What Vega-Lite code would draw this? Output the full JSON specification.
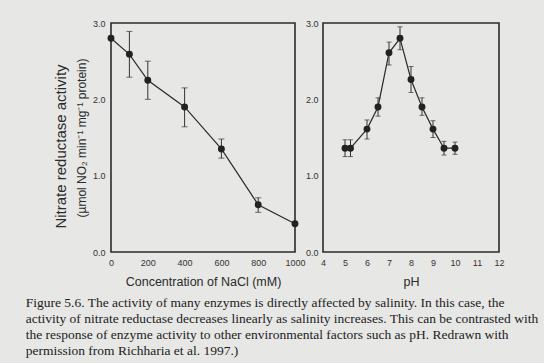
{
  "$schema": "https://vega.github.io/schema/vega-lite/v6.json",
  "background": "#e7e7e5",
  "padding": {"left": 25, "top": 18, "right": 5, "bottom": 5},
  "bounds": "flush",
  "spacing": 28,
  "config": {
    "view": {"stroke": "#2b2b2b", "strokeWidth": 1.6},
    "axis": {
      "labelFont": "Liberation Sans", "labelFontSize": 9, "labelColor": "#333333",
      "titleFont": "Liberation Sans", "titleColor": "#2b2b2b", "titleFontWeight": "normal",
      "grid": false, "domain": false, "ticks": false, "labelFlush": false, "labelPadding": 6
    },
    "title": {"font": "Liberation Sans", "fontWeight": "normal", "color": "#2b2b2b"}
  },
  "title": {
    "text": [
      "Figure 5.6. The activity of many enzymes is directly affected by salinity. In this case, the",
      "activity of nitrate reductase decreases linearly as salinity increases. This can be contrasted with",
      "the response of enzyme activity to other environmental factors such as pH. Redrawn with",
      "permission from Richharia et al. 1997.)"
    ],
    "orient": "bottom", "anchor": "start", "frame": "bounds",
    "font": "Liberation Serif", "fontSize": 13.5, "lineHeight": 16, "fontWeight": "normal",
    "color": "#222222", "offset": 8, "dx": -28
  },
  "hconcat": [
    {
      "width": 184, "height": 229,
      "title": {"text": "Nitrate reductase activity", "orient": "left", "fontSize": 15, "offset": 6, "dx": -9},
      "data": {"values": [
        {"nacl": 0, "v": 2.8, "lo": 2.8, "hi": 2.8},
        {"nacl": 100, "v": 2.59, "lo": 2.29, "hi": 2.89},
        {"nacl": 200, "v": 2.25, "lo": 2.0, "hi": 2.5},
        {"nacl": 400, "v": 1.9, "lo": 1.64, "hi": 2.15},
        {"nacl": 600, "v": 1.35, "lo": 1.23, "hi": 1.48},
        {"nacl": 800, "v": 0.62, "lo": 0.52, "hi": 0.71},
        {"nacl": 1000, "v": 0.37, "lo": 0.37, "hi": 0.37}
      ]},
      "encoding": {
        "x": {"field": "nacl", "type": "quantitative",
              "scale": {"domain": [0, 1000], "nice": false},
              "axis": {"title": "Concentration of NaCl (mM)", "format": "d", "values": [0, 200, 400, 600, 800, 1000], "titleFontSize": 12.5, "titlePadding": 8}}
      },
      "layer": [
        {"mark": {"type": "errorbar", "color": "#333333", "thickness": 1, "ticks": {"size": 6, "thickness": 1, "color": "#333333"}},
         "encoding": {"y": {"field": "lo", "type": "quantitative", "scale": {"domain": [0, 3], "nice": false},
            "axis": {"title": "(µmol NO₂ min⁻¹ mg⁻¹ protein)", "titleFontSize": 12, "titlePadding": 4, "values": [0, 1, 2, 3], "format": ".1f"}},
            "y2": {"field": "hi"}}},
        {"mark": {"type": "line", "color": "#2b2b2b", "strokeWidth": 1.2},
         "encoding": {"y": {"field": "v", "type": "quantitative", "scale": {"domain": [0, 3], "nice": false},
            "axis": {"title": "(µmol NO₂ min⁻¹ mg⁻¹ protein)", "titleFontSize": 12, "titlePadding": 4, "values": [0, 1, 2, 3], "format": ".1f"}}}},
        {"mark": {"type": "point", "filled": true, "color": "#222222", "size": 48, "opacity": 1},
         "encoding": {"y": {"field": "v", "type": "quantitative"}}}
      ]
    },
    {
      "width": 176, "height": 229,
      "data": {"values": [
        {"ph": 5.0, "v": 1.36, "lo": 1.25, "hi": 1.47},
        {"ph": 5.25, "v": 1.36, "lo": 1.25, "hi": 1.47},
        {"ph": 6.0, "v": 1.61, "lo": 1.48, "hi": 1.73},
        {"ph": 6.5, "v": 1.9, "lo": 1.78, "hi": 2.02},
        {"ph": 7.0, "v": 2.61, "lo": 2.45, "hi": 2.75},
        {"ph": 7.5, "v": 2.8, "lo": 2.65, "hi": 2.95},
        {"ph": 8.0, "v": 2.26, "lo": 2.09, "hi": 2.43},
        {"ph": 8.5, "v": 1.9, "lo": 1.79, "hi": 2.02},
        {"ph": 9.0, "v": 1.61, "lo": 1.5, "hi": 1.72},
        {"ph": 9.5, "v": 1.36, "lo": 1.27, "hi": 1.45},
        {"ph": 10.0, "v": 1.36, "lo": 1.28, "hi": 1.44}
      ]},
      "encoding": {
        "x": {"field": "ph", "type": "quantitative",
              "scale": {"domain": [4, 12], "nice": false},
              "axis": {"title": "pH", "values": [4, 5, 6, 7, 8, 9, 10, 11, 12], "titleFontSize": 12.5, "titlePadding": 8}}
      },
      "layer": [
        {"mark": {"type": "errorbar", "color": "#333333", "thickness": 1, "ticks": {"size": 5, "thickness": 1, "color": "#333333"}},
         "encoding": {"y": {"field": "lo", "type": "quantitative", "scale": {"domain": [0, 3], "nice": false},
            "axis": {"title": null, "values": [0, 1, 2, 3], "format": ".1f", "labelPadding": 5}},
            "y2": {"field": "hi"}}},
        {"mark": {"type": "line", "color": "#2b2b2b", "strokeWidth": 1.2},
         "encoding": {"y": {"field": "v", "type": "quantitative", "scale": {"domain": [0, 3], "nice": false},
            "axis": {"title": null, "values": [0, 1, 2, 3], "format": ".1f", "labelPadding": 5}}}},
        {"mark": {"type": "point", "filled": true, "color": "#222222", "size": 48, "opacity": 1},
         "encoding": {"y": {"field": "v", "type": "quantitative"}}}
      ]
    }
  ]
}
